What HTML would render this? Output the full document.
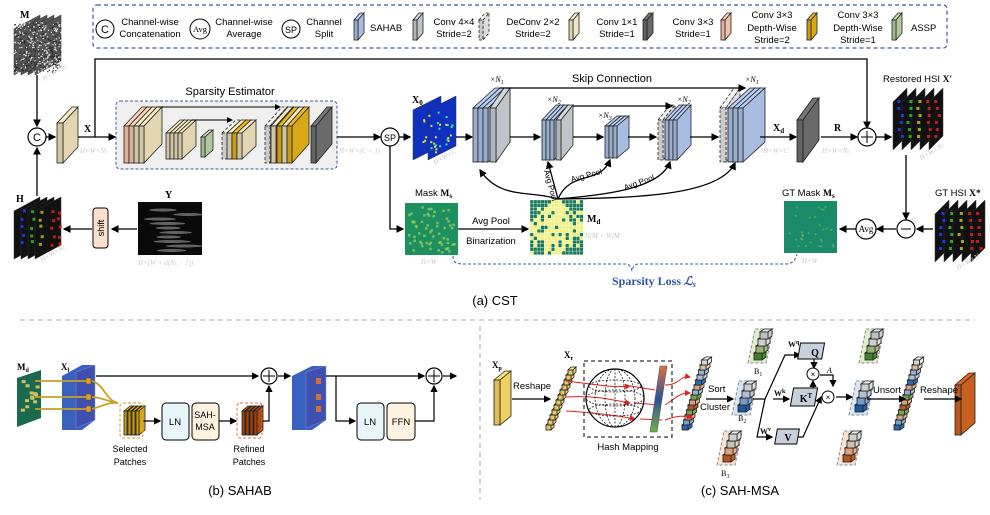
<!DOCTYPE html>
<html><head><meta charset="utf-8"><style>
html,body{margin:0;padding:0;background:#fff}
svg{display:block}
text{font-family:"Liberation Sans",sans-serif}
.s{font-family:"Liberation Serif",serif}
.g{fill:#c8c8c8;font-family:"Liberation Serif",serif;font-style:italic;font-size:7px}
</style></head><body>
<svg id="S" width="990" height="515" viewBox="0 0 990 515" xmlns="http://www.w3.org/2000/svg">
<defs>
<marker id="a" markerWidth="6" markerHeight="6" refX="5" refY="3" orient="auto"><path d="M0,0L6,3L0,6z" fill="#000"/></marker>
<marker id="r" markerWidth="6" markerHeight="6" refX="5" refY="3" orient="auto"><path d="M0,0L6,3L0,6z" fill="#e02020"/></marker>
<linearGradient id="gb" x1="0" y1="0" x2="0" y2="1"><stop offset="0" stop-color="#e07040"/><stop offset="0.5" stop-color="#3050a0"/><stop offset="1" stop-color="#70b040"/></linearGradient>
</defs>
<rect x="116" y="101" width="221" height="68" rx="4" fill="#efefef" stroke="#3a5a9a" stroke-dasharray="3,2"/>
<g id="shapes"></g>
<!-- legend -->
<rect x="93" y="5" width="854" height="43" rx="4" fill="none" stroke="#3a5a9a" stroke-dasharray="4,3" stroke-width="1.2"/>
<circle cx="105" cy="29" r="9" fill="#fff" stroke="#000"/><text x="105" y="33" font-size="11" text-anchor="middle">C</text>
<text x="150" y="25" font-size="9.5" text-anchor="middle">Channel-wise</text><text x="150" y="37" font-size="9.5" text-anchor="middle">Concatenation</text>
<circle cx="200" cy="29" r="10" fill="#fff" stroke="#000"/><text x="200" y="32" font-size="8.5" text-anchor="middle" class="s">Avg</text>
<text x="244" y="25" font-size="9.5" text-anchor="middle">Channel-wise</text><text x="244" y="37" font-size="9.5" text-anchor="middle">Average</text>
<circle cx="291" cy="29" r="9" fill="#fff" stroke="#000"/><text x="291" y="33" font-size="9" text-anchor="middle">SP</text>
<text x="324" y="25" font-size="9.5" text-anchor="middle">Channel</text><text x="324" y="37" font-size="9.5" text-anchor="middle">Split</text>
<text x="370" y="31" font-size="9.5">SAHAB</text>
<text x="454" y="25" font-size="9.5" text-anchor="middle">Conv 4×4</text><text x="454" y="37" font-size="9.5" text-anchor="middle">Stride=2</text>
<text x="533" y="25" font-size="9.5" text-anchor="middle">DeConv 2×2</text><text x="533" y="37" font-size="9.5" text-anchor="middle">Stride=2</text>
<text x="617" y="25" font-size="9.5" text-anchor="middle">Conv 1×1</text><text x="617" y="37" font-size="9.5" text-anchor="middle">Stride=1</text>
<text x="693" y="25" font-size="9.5" text-anchor="middle">Conv 3×3</text><text x="693" y="37" font-size="9.5" text-anchor="middle">Stride=1</text>
<text x="772" y="18" font-size="9.5" text-anchor="middle">Conv 3×3</text><text x="772" y="31" font-size="9.5" text-anchor="middle">Depth-Wise</text><text x="772" y="43" font-size="9.5" text-anchor="middle">Stride=2</text>
<text x="858" y="18" font-size="9.5" text-anchor="middle">Conv 3×3</text><text x="858" y="31" font-size="9.5" text-anchor="middle">Depth-Wise</text><text x="858" y="43" font-size="9.5" text-anchor="middle">Stride=1</text>
<text x="911" y="31" font-size="9.5">ASSP</text>

<!-- CST lines -->
<g stroke="#000" stroke-width="1.3" fill="none">
<path d="M95,137V59H867V128" marker-end="url(#a)"/>
<path d="M37,75V126" marker-end="url(#a)"/>
<path d="M37,196V148" marker-end="url(#a)"/>
<path d="M46,137H55" marker-end="url(#a)"/>
<path d="M78,137H115" marker-end="url(#a)"/>
<path d="M337,137H380" marker-end="url(#a)"/>
<path d="M399,137H410" marker-end="url(#a)"/>
<path d="M456,137H472" marker-end="url(#a)"/>
<path d="M510,137H540" marker-end="url(#a)"/>
<path d="M573,137H603" marker-end="url(#a)"/>
<path d="M628,137H656" marker-end="url(#a)"/>
<path d="M690,137H718" marker-end="url(#a)"/>
<path d="M760,137H796" marker-end="url(#a)"/>
<path d="M821,137H857" marker-end="url(#a)"/>
<path d="M876,137H891" marker-end="url(#a)"/>
<path d="M906,155V219" marker-end="url(#a)"/>
<path d="M933,229H917" marker-end="url(#a)"/>
<path d="M896,229H877" marker-end="url(#a)"/>
<path d="M856,229H840" marker-end="url(#a)"/>
<path d="M390,146V229H403" marker-end="url(#a)"/>
<path d="M458,229H528" marker-end="url(#a)"/>
<path d="M137,229H112" marker-end="url(#a)"/>
<path d="M92,229H64" marker-end="url(#a)"/>
<path d="M500,88H745" marker-end="url(#a)"/>
<path d="M573,106H672" marker-end="url(#a)"/>
<path d="M158,107H280" stroke-width="1" marker-end="url(#a)"/>
<path d="M192,120H232" stroke-width="1" marker-end="url(#a)"/>
<path d="M558,199C530,190,500,200,480,170" marker-end="url(#a)"/>
<path d="M558,199L548,162" marker-end="url(#a)"/>
<path d="M558,199C570,170,600,185,610,160" marker-end="url(#a)"/>
<path d="M558,199C600,195,660,190,670,162" marker-end="url(#a)"/>
<path d="M558,199C640,198,720,195,735,163" marker-end="url(#a)"/>
</g>
<circle cx="37" cy="137" r="9" fill="#fff" stroke="#000" stroke-width="1.2"/><text x="37" y="141" font-size="11" text-anchor="middle">C</text>
<circle cx="390" cy="137" r="9" fill="#fff" stroke="#000" stroke-width="1.2"/><text x="390" y="141" font-size="9" text-anchor="middle">SP</text>
<circle cx="867" cy="137" r="9" fill="#fff" stroke="#000" stroke-width="1.2"/><path d="M861,137h12M867,131v12" stroke="#000"/>
<circle cx="906" cy="229" r="9" fill="#fff" stroke="#000" stroke-width="1.2"/><path d="M901,229h10" stroke="#000"/>
<circle cx="866" cy="229" r="10" fill="#fff" stroke="#000" stroke-width="1.2"/><text x="866" y="232" font-size="9" text-anchor="middle" class="s">Avg</text>
<rect x="93" y="208" width="15" height="40" rx="3" fill="#fbe0d0" stroke="#000"/><text transform="translate(104,228) rotate(-90)" font-size="9" text-anchor="middle">shift</text>
<text x="230" y="95" font-size="11" text-anchor="middle">Sparsity Estimator</text>
<text x="612" y="82" font-size="11" text-anchor="middle">Skip Connection</text>
<text x="20" y="18" font-size="10" class="s" font-weight="bold">M</text>
<text x="84" y="132" font-size="10" class="s" font-weight="bold">X</text>
<text x="16" y="202" font-size="10" class="s" font-weight="bold">H</text>
<text x="165" y="198" font-size="10" class="s" font-weight="bold">Y</text>
<text x="412" y="103" font-size="10" class="s" font-weight="bold">X<tspan font-size="7" dy="2">0</tspan></text>
<text x="773" y="131" font-size="10" class="s" font-weight="bold">X<tspan font-size="7" dy="2">d</tspan></text>
<text x="834" y="131" font-size="10" class="s" font-weight="bold">R</text>
<text x="883" y="82" font-size="9.5">Restored HSI <tspan class="s" font-weight="bold">X′</tspan></text>
<text x="935" y="196" font-size="9.5">GT HSI <tspan class="s" font-weight="bold">X*</tspan></text>
<text x="782" y="196" font-size="9.5">GT Mask <tspan class="s" font-weight="bold">M<tspan font-size="7" dy="2">s</tspan></tspan></text>
<text x="415" y="196" font-size="9.5">Mask <tspan class="s" font-weight="bold">M<tspan font-size="7" dy="2">s</tspan></tspan></text>
<text x="587" y="222" font-size="10" class="s" font-weight="bold">M<tspan font-size="7" dy="2">d</tspan></text>
<text x="491" y="224" font-size="9.5" text-anchor="middle">Avg Pool</text>
<text x="491" y="244" font-size="9.5" text-anchor="middle">Binarization</text>
<text x="548" y="186" font-size="8" transform="rotate(75 548 186)" text-anchor="middle">Avg Pool</text>
<text x="587" y="178" font-size="8" transform="rotate(-15 587 178)" text-anchor="middle">Avg Pool</text>
<text x="640" y="185" font-size="8" transform="rotate(-20 640 185)" text-anchor="middle">Avg Pool</text>
<text x="490" y="82" font-size="8" class="s" font-style="italic">×N<tspan font-size="6" dy="2">1</tspan></text>
<text x="547" y="102" font-size="8" class="s" font-style="italic">×N<tspan font-size="6" dy="2">2</tspan></text>
<text x="598" y="118" font-size="8" class="s" font-style="italic">×N<tspan font-size="6" dy="2">3</tspan></text>
<text x="677" y="102" font-size="8" class="s" font-style="italic">×N<tspan font-size="6" dy="2">2</tspan></text>
<text x="745" y="82" font-size="8" class="s" font-style="italic">×N<tspan font-size="6" dy="2">1</tspan></text>
<path d="M453,256c0,8,5,8,12,8H625c5,0,6,3,7,7c1,-4,2,-7,7,-7H785c7,0,10,-3,12,-10" fill="none" stroke="#3a5a9a" stroke-dasharray="3,2"/>
<text x="612" y="285" font-size="12" fill="#2f55a0" font-weight="bold" class="s">Sparsity Loss <tspan font-style="italic">ℒ<tspan font-size="8" dy="2">s</tspan></tspan></text>
<text x="495" y="305" font-size="13" text-anchor="middle">(a) CST</text>
<text x="44" y="81" class="g" transform="rotate(-30 44 81)">H×W×N<tspan font-size="5">λ</tspan></text>
<text x="80" y="153" class="g">H×W×N<tspan font-size="5">λ</tspan></text>
<text x="339" y="153" class="g">H×W×(C + 1)</text>
<text x="435" y="165" class="g" transform="rotate(-30 435 165)">H×W×C</text>
<text x="42" y="262" class="g" transform="rotate(-30 42 262)">H×W×N<tspan font-size="5">λ</tspan></text>
<text x="138" y="265" class="g">H×(W + d(N<tspan font-size="5">λ</tspan> − 1))</text>
<text x="421" y="264" class="g">H×W</text>
<text x="802" y="263" class="g">H×W</text>
<text x="763" y="153" class="g">H×W×C</text>
<text x="822" y="153" class="g">H×W×N<tspan font-size="5">λ</tspan></text>
<text x="921" y="160" class="g" transform="rotate(-30 921 160)">H×W×N<tspan font-size="5">λ</tspan></text>
<text x="958" y="270" class="g" transform="rotate(-30 958 270)">H×W×N<tspan font-size="5">λ</tspan></text>
<text x="585" y="238" class="g">H/M × W/M</text>

<!-- separators -->
<path d="M20,320H975" stroke="#aaa" stroke-dasharray="5,4"/>
<path d="M480,326V500" stroke="#aaa" stroke-dasharray="5,4"/>

<!-- (b) -->
<g stroke="#000" stroke-width="1.2" fill="none">
<path d="M96,376H258" marker-end="url(#a)"/>
<path d="M143,421H160" marker-end="url(#a)"/>
<path d="M218,421H236" marker-end="url(#a)"/>
<path d="M263,421H269V386" marker-end="url(#a)"/>
<path d="M278,376H290" marker-end="url(#a)"/>
<path d="M326,376H424" marker-end="url(#a)"/>
<path d="M336,376V421H355" marker-end="url(#a)"/>
<path d="M415,421H434V386" marker-end="url(#a)"/>
<path d="M443,376H456" marker-end="url(#a)"/>
</g>
<g stroke="#c8a020" stroke-width="1.8" fill="none">
<path d="M35,381H86M35,397H88M35,409H86"/>
<path d="M92,381C105,385,105,400,118,403M92,397C105,398,108,402,118,403M92,409C105,405,110,402,118,403"/>
</g>
<circle cx="269" cy="376" r="8" fill="#fff" stroke="#000" stroke-width="1.2"/><path d="M263,376h12M269,370v12" stroke="#000"/>
<circle cx="434" cy="376" r="8" fill="#fff" stroke="#000" stroke-width="1.2"/><path d="M428,376h12M434,370v12" stroke="#000"/>
<rect x="120" y="403" width="23" height="35" rx="3" fill="none" stroke="#c8a020" stroke-dasharray="3,2"/>
<rect x="237" y="403" width="25" height="35" rx="3" fill="none" stroke="#d07040" stroke-dasharray="3,2"/>
<rect x="162" y="403" width="27" height="37" rx="4" fill="#e8f6f9" stroke="#000"/><text x="175" y="425" font-size="9.5" text-anchor="middle">LN</text>
<rect x="192" y="403" width="27" height="37" rx="4" fill="#fdf3e0" stroke="#000"/><text x="205" y="418" font-size="9" text-anchor="middle">SAH-</text><text x="205" y="430" font-size="9" text-anchor="middle">MSA</text>
<rect x="357" y="403" width="27" height="37" rx="4" fill="#e8f6f9" stroke="#000"/><text x="370" y="425" font-size="9.5" text-anchor="middle">LN</text>
<rect x="387" y="403" width="28" height="37" rx="4" fill="#fdf3e0" stroke="#000"/><text x="401" y="425" font-size="9.5" text-anchor="middle">FFN</text>
<text x="130" y="452" font-size="9" text-anchor="middle">Selected</text><text x="130" y="465" font-size="9" text-anchor="middle">Patches</text>
<text x="249" y="452" font-size="9" text-anchor="middle">Refined</text><text x="249" y="465" font-size="9" text-anchor="middle">Patches</text>
<text x="17" y="370" font-size="9" class="s" font-weight="bold">M<tspan font-size="6" dy="2">d</tspan></text>
<text x="61" y="370" font-size="9" class="s" font-weight="bold">X<tspan font-size="6" dy="2">l</tspan></text>
<text x="240" y="495" font-size="13" text-anchor="middle">(b) SAHAB</text>

<!-- (c) -->
<g stroke="#000" stroke-width="1.2" fill="none">
<path d="M512,399H550" marker-end="url(#a)"/>
<path d="M706,399H733" marker-end="url(#a)"/>
<path d="M753,399H765L785,355H800" marker-end="url(#a)"/>
<path d="M765,399L757,437H772" marker-end="url(#a)"/>
<path d="M773,399H785"/>
<path d="M785,399H789" marker-end="url(#a)"/>
<path d="M794,437H803L821,397" marker-end="url(#a)"/>
<path d="M814,359V368" marker-end="url(#a)"/>
<path d="M813,388V381" marker-end="url(#a)"/>
<path d="M820,375H833V386" marker-end="url(#a)"/>
<path d="M836,397H852" marker-end="url(#a)"/>
<path d="M867,399H905" marker-end="url(#a)"/>
<path d="M924,399H961" marker-end="url(#a)"/>
</g>
<g stroke="#e02020" stroke-width="1" fill="none">
<path d="M566,381C600,385,615,388,630,386" marker-end="url(#r)"/>
<path d="M566,397C600,395,615,401,630,403" marker-end="url(#r)"/>
<path d="M566,411C600,413,620,416,635,419" marker-end="url(#r)"/>
<path d="M630,386L655,390M635,403L660,405M640,419L662,420"/>
<path d="M665,385C680,385,680,375,690,377" marker-end="url(#r)"/>
<path d="M665,405C680,395,680,393,690,393" marker-end="url(#r)"/>
<path d="M665,420C680,415,684,416,692,417" marker-end="url(#r)"/>
</g>
<rect x="584" y="361" width="88" height="76" fill="none" stroke="#000" stroke-dasharray="4,3"/>
<circle cx="615" cy="398" r="29" fill="none" stroke="#000" stroke-width="1.2"/>
<g fill="none" stroke="#000" stroke-width="0.7" stroke-dasharray="2,1.5">
<ellipse cx="615" cy="398" rx="29" ry="8"/><ellipse cx="615" cy="386" rx="26" ry="6"/><ellipse cx="615" cy="410" rx="26" ry="6"/>
<ellipse cx="615" cy="398" rx="10" ry="29"/><ellipse cx="615" cy="398" rx="20" ry="29"/><path d="M615,369V427"/>
</g>
<polygon points="660,366 667,366 657,432 650,432" fill="url(#gb)" stroke="#555" stroke-width="0.6"/>
<text x="628" y="450" font-size="9.5" text-anchor="middle">Hash Mapping</text>
<text x="513" y="389" font-size="9.5">Reshape</text>
<text x="708" y="392" font-size="9.5">Sort</text>
<text x="700" y="410" font-size="9.5">Cluster</text>
<text x="873" y="393" font-size="9.5">Unsort</text>
<text x="920" y="393" font-size="9.5">Reshape</text>
<text x="492" y="368" font-size="9" class="s" font-weight="bold">X<tspan font-size="6" dy="2">p</tspan></text>
<text x="564" y="358" font-size="9" class="s" font-weight="bold">X<tspan font-size="6" dy="2">r</tspan></text>
<rect x="800" y="343" width="24" height="16" fill="#c8d0dc" stroke="#000" transform="skewX(-10) translate(61,0)"/><text x="815" y="356" font-size="10" class="s" font-weight="bold" text-anchor="middle">Q</text>
<rect x="792" y="388" width="24" height="18" fill="#c8d0dc" stroke="#000" transform="skewX(-10) translate(70,0)"/><text x="806" y="402" font-size="10" class="s" font-weight="bold" text-anchor="middle">K<tspan font-size="7" dy="-4">T</tspan></text>
<rect x="776" y="429" width="22" height="15" fill="#c8d0dc" stroke="#000" transform="skewX(-10) translate(77,0)"/><text x="788" y="441" font-size="10" class="s" font-weight="bold" text-anchor="middle">V</text>
<circle cx="813" cy="374" r="6" fill="#fff" stroke="#000"/><text x="813" y="377" font-size="8" text-anchor="middle">×</text>
<circle cx="828" cy="397" r="6" fill="#fff" stroke="#000"/><text x="828" y="400" font-size="8" text-anchor="middle">×</text>
<text x="827" y="373" font-size="8" class="s" font-style="italic">A</text>
<text x="788" y="347" font-size="8" class="s" font-weight="bold">W<tspan font-size="6" dy="-3">q</tspan></text>
<text x="774" y="396" font-size="8" class="s" font-weight="bold">W<tspan font-size="6" dy="-3">k</tspan></text>
<text x="760" y="434" font-size="8" class="s" font-weight="bold">W<tspan font-size="6" dy="-3">v</tspan></text>
<text x="754" y="374" font-size="8" class="s">B<tspan font-size="6" dy="2">1</tspan></text>
<text x="738" y="421" font-size="8" class="s">B<tspan font-size="6" dy="2">2</tspan></text>
<text x="721" y="476" font-size="8" class="s">B<tspan font-size="6" dy="2">3</tspan></text>
<text x="740" y="495" font-size="13" text-anchor="middle">(c) SAH-MSA</text>
</svg>
<script>
const NS="http://www.w3.org/2000/svg",G=document.getElementById("shapes");
let seed=7;function R(){seed=(seed*16807)%2147483647;return seed/2147483647;}
function el(t,a){const e=document.createElementNS(NS,t);for(const k in a)e.setAttribute(k,a[k]);G.appendChild(e);return e;}
function shade(c,f){let n=parseInt(c.slice(1),16),r=n>>16,g=(n>>8)&255,b=n&255;r=Math.min(255,Math.round(r*f));g=Math.min(255,Math.round(g*f));b=Math.min(255,Math.round(b*f));return "rgb("+r+","+g+","+b+")";}
function slab(x,y,w,h,dx,dy,c,dash){const s={stroke:"#222","stroke-width":0.8};if(dash){s["stroke-dasharray"]="3,2";}
el("polygon",Object.assign({points:`${x},${y} ${x+dx},${y-dy} ${x+w+dx},${y-dy} ${x+w},${y}`,fill:shade(c,1.1)},s));
el("polygon",Object.assign({points:`${x+w},${y} ${x+w+dx},${y-dy} ${x+w+dx},${y+h-dy} ${x+w},${y+h}`,fill:c},s));
el("rect",Object.assign({x:x,y:y,width:w,height:h,fill:shade(c,0.92)},s));}
const BE="#e2d6b2",PK="#f0c0a8",GD="#d8a818",GR="#b0c8a0",BL="#a8bce0",GY="#c0c4c8",DK="#6a6a6a",DS="#dcdcdc";
slab(57,123,6,40,15,16,BE);
[[124,PK],[129,PK],[134,BE],[139,BE]].forEach(([x,c])=>slab(x,126,5,37,18,19,c));
[[166,BE],[170,BE],[174,BE],[178,BE]].forEach(([x,c])=>slab(x,133,4,26,14,13,c));
slab(201,137,4,20,8,7,GR);
[[222,DS,1],[227,BE],[232,GD],[237,BE]].forEach(([x,c,d])=>slab(x,133,5,26,14,13,c,d));
[[265,DS,1],[271,BE],[277,GD],[282,BE],[287,GD]].forEach(([x,c,d])=>slab(x,126,5,37,17,19,c,d));
slab(311,126,5,37,16,19,DK);
[473,478,483].forEach(x=>slab(x,108,5,54,22,20,BL));slab(490,108,6,54,14,20,GY);
[542,546,550].forEach(x=>slab(x,120,4,40,14,15,BL));slab(556,120,5,40,12,15,GY);
[605,609,613].forEach(x=>slab(x,126,4,32,12,10,BL));
slab(658,120,5,40,12,15,DS,1);[665,669,673].forEach(x=>slab(x,120,4,40,14,15,BL));
slab(720,108,6,54,14,20,DS,1);[728,733,738].forEach(x=>slab(x,108,5,54,22,20,BL));
slab(797,120,6,42,16,22,DK);
function img(x,y,w,h,fill,n,dx){for(let i=0;i<n;i++){el("polygon",{points:`${x+i*dx},${y+14} ${x+i*dx+w},${y} ${x+i*dx+w},${y+h-14} ${x+i*dx},${y+h}`,fill:fill[i%fill.length],stroke:"#333","stroke-width":0.5});}}
img(14,15,26,60,["#555"],4,7);
for(let i=0;i<500;i++){const px=14+R()*47,py=22+R()*50;el("rect",{x:px,y:py,width:1.2,height:1.2,fill:R()<.5?"#eee":"#222"});}
img(14,197,26,62,["#111"],4,7);
[["#2040ff",20],["#30c030",30],["#c0c020",38],["#e02020",50],["#e02020",56]].forEach(([c,x])=>{for(let k=0;k<5;k++)el("rect",{x:x+R()*3,y:208+k*8+R()*4,width:3,height:3,fill:c,opacity:.8});});
el("rect",{x:138,y:202,width:64,height:53,fill:"#0a0a0a"});
for(let k=0;k<10;k++)el("ellipse",{cx:160+R()*30,cy:210+k*4.5,rx:12+R()*8,ry:1.5,fill:"#bbb",opacity:.5});
img(413,96,28,64,["#1030c0"],2,15);
for(let k=0;k<30;k++)el("rect",{x:417+R()*36,y:108+R()*45,width:2,height:2,fill:R()<.5?"#40e0a0":"#e0e040"});
img(893,88,14,62,["#111"],5,9);
[["#2040ff",897],["#30c030",906],["#c0c020",915],["#e02020",925],["#e02020",934]].forEach(([c,x])=>{for(let k=0;k<6;k++)el("rect",{x:x+R()*4,y:100+k*7,width:3,height:3,fill:c,opacity:.85});});
img(935,200,14,62,["#111"],5,9);
[["#2040ff",939],["#30c030",948],["#c0c020",957],["#e02020",967],["#e02020",976]].forEach(([c,x])=>{for(let k=0;k<6;k++)el("rect",{x:x+R()*4,y:212+k*7,width:3,height:3,fill:c,opacity:.85});});
el("rect",{x:405,y:203,width:53,height:52,fill:"#1e9060"});
for(let k=0;k<60;k++)el("rect",{x:408+R()*46,y:206+R()*46,width:2.5,height:2.5,fill:"#a0d060",opacity:.7});
el("rect",{x:784,y:201,width:53,height:52,fill:"#1a8a68"});
for(let k=0;k<30;k++)el("rect",{x:788+R()*45,y:205+R()*44,width:2,height:2,fill:"#70b860",opacity:.6});
for(let i=0;i<15;i++)for(let j=0;j<15;j++){const cx=i-7,cy=j-7,y=(Math.abs(cx)+Math.abs(cy)<9&&R()<.8)||R()<.15;el("rect",{x:530+i*3.55,y:200+j*3.65,width:3.55,height:3.65,fill:y?"#f0f080":"#1a7a5a",stroke:"#fff","stroke-width":0.3});}
el("polygon",{points:"17,378 41,370 41,418 17,427",fill:"#1a6a50"});
for(let k=0;k<12;k++)el("rect",{x:20+R()*18,y:380+R()*38,width:4,height:3,fill:"#d0c060"});
el("polygon",{points:"62,376 82,365 95,365 95,420 82,430 62,430",fill:"#3a60c0"});
el("polygon",{points:"76,372 95,365 95,420 76,428",fill:"#4050b0",stroke:"#8090d0","stroke-width":0.5});
[378,394,406].forEach(y=>el("rect",{x:86,y:y,width:5,height:6,fill:"#e0a030",stroke:"#704010","stroke-width":.5}));
[0,1,2,3].forEach(i=>slab(124+i*4,411,3,24,6,5,GD));
[0,1,2,3].forEach(i=>slab(242+i*4,411,3,24,6,5,"#b04810"));
el("polygon",{points:"292,376 312,366 326,366 326,420 312,430 292,430",fill:"#3a60c0"});
el("polygon",{points:"306,372 326,366 326,420 306,428",fill:"#4050b0",stroke:"#8090d0","stroke-width":0.5});
[378,394,406].forEach(y=>el("rect",{x:316,y:y,width:5,height:6,fill:"#d07040"}));
slab(494,380,6,45,11,9,"#f0d060");
for(let k=0;k<12;k++)slab(546+k*2,425-k*5,5,5,3,3,"#f8d870");
const CC=["#3070c0","#80b0d8","#e8b090","#80b050","#c06030","#e8b090","#80b050","#a0c0e0","#e8b090","#3070c0","#c0d0e0","#a0c0e0","#e8d0b0","#e8e8e8"];
CC.forEach((c,k)=>slab(682+k*1.5,425-k*5,6,5,4,3,c));
CC.forEach((c,k)=>slab(894+k*1.5,425-k*5,6,5,4,3,c));
slab(955,385,6,50,14,12,"#c86020");
function bucket(x,y,bg,cs){el("polygon",{points:`${x-3},${y+32} ${x+4},${y-2} ${x+22},${y-2} ${x+15},${y+32}`,fill:bg,stroke:"#888","stroke-dasharray":"3,2"});cs.forEach((c,k)=>slab(x+3+k*2,y+22-k*7,8,7,4,3,c));}
bucket(751,331,"#dfeccd",["#4a8a30","#a0c080","#e0e0e0","#d0d0d0"]);
bucket(735,383,"#d8e6f4",["#2060b0","#80a8d8","#c0d0e0","#e0e0e0"]);
bucket(720,433,"#f7e2d4",["#c06020","#f0b090","#e0d0c0","#e0e0e0"]);
bucket(862,331,"#dfeccd",["#4a8a30","#a0c080","#e0e0e0","#d0d0d0"]);
bucket(852,383,"#d8e6f4",["#2060b0","#80a8d8","#c0d0e0","#e0e0e0"]);
bucket(840,433,"#f7e2d4",["#c06020","#f0b090","#e0d0c0","#e0e0e0"]);
slab(354,20,4,20,6,7,BL);slab(413,20,4,20,6,7,GY);slab(479,20,4,20,6,7,DS,1);slab(569,20,4,20,6,7,"#f0e6c4");slab(643,20,4,20,6,7,DK);slab(721,20,4,20,6,7,PK);slab(807,20,4,20,6,7,GD);slab(892,20,4,20,6,7,GR);
</script>
</body></html>
